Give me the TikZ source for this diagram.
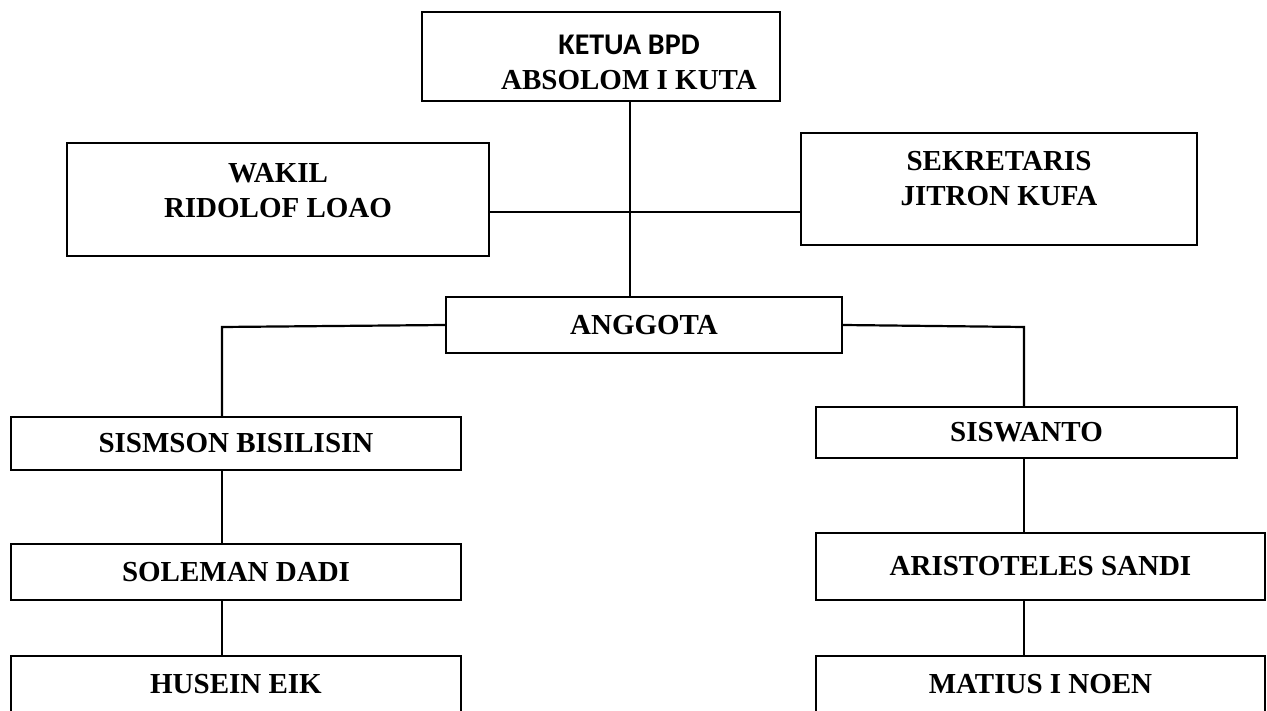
\documentclass[tikz,border=0pt]{standalone}
\usepackage{fontspec}
\setmainfont{Liberation Serif}
\newfontfamily\ketuafont{Carlito}
\usepackage{tikz}

\begin{document}
\begin{tikzpicture}[x=1pt,y=-1pt,
        box/.style={draw, line width=2.2pt, inner sep=0pt, font=\bfseries\fontsize{29}{35}\selectfont},
        txt/.style={align=center, inner sep=0pt, font=\bfseries\fontsize{29}{35}\selectfont},
        link/.style={line width=2.2pt}]
        \useasboundingbox (0,0) rectangle (1267,711);
        \node[box, minimum width=358, minimum height=89] (ketua) at (601,56.5) {};
        \node[txt] (ketuatxt) at (629,62) {{\ketuafont\fontsize{30}{35}\selectfont KETUA BPD}\\ABSOLOM I KUTA};
        \node[box, minimum width=422, minimum height=113] (wakil) at (278,199.5) {};
        \node[txt] (wakiltxt) at (278,191) {WAKIL\\RIDOLOF LOAO};
        \node[box, minimum width=396, minimum height=112] (sekretaris) at (999,189) {};
        \node[txt] (sekretaristxt) at (999,179) {SEKRETARIS\\JITRON KUFA};
        \node[box, minimum width=396, minimum height=56] (anggota) at (644,325) {ANGGOTA};
        \node[box, minimum width=450, minimum height=53] (sismson) at (236,443.5) {SISMSON BISILISIN};
        \node[box, minimum width=450, minimum height=56] (soleman) at (236,572) {SOLEMAN DADI};
        \node[box, minimum width=450, minimum height=56] (husein) at (236,684) {HUSEIN EIK};
        \node[box, minimum width=421, minimum height=51] (siswanto) at (1026.5,432.5) {SISWANTO};
        \node[box, minimum width=449, minimum height=67] (aristoteles) at (1040.5,566.5) {ARISTOTELES SANDI};
        \node[box, minimum width=449, minimum height=56] (matius) at (1040.5,684) {MATIUS I NOEN};
        \coordinate (spine) at (630,212);
        \coordinate (lbend) at (222,327);
        \coordinate (rbend) at (1024,327);
        \draw[link] (ketua.south -| spine) -- (anggota.north -| spine);
        \draw[link] (wakil.east |- spine) -- (sekretaris.west |- spine);
        \draw[link] (anggota.west) -- (lbend) -- (lbend |- sismson.north);
        \draw[link] (sismson.south -| lbend) -- (soleman.north -| lbend);
        \draw[link] (soleman.south -| lbend) -- (husein.north -| lbend);
        \draw[link] (anggota.east) -- (rbend) -- (rbend |- siswanto.north);
        \draw[link] (siswanto.south -| rbend) -- (aristoteles.north -| rbend);
        \draw[link] (aristoteles.south -| rbend) -- (matius.north -| rbend);
\end{tikzpicture}
\end{document}
